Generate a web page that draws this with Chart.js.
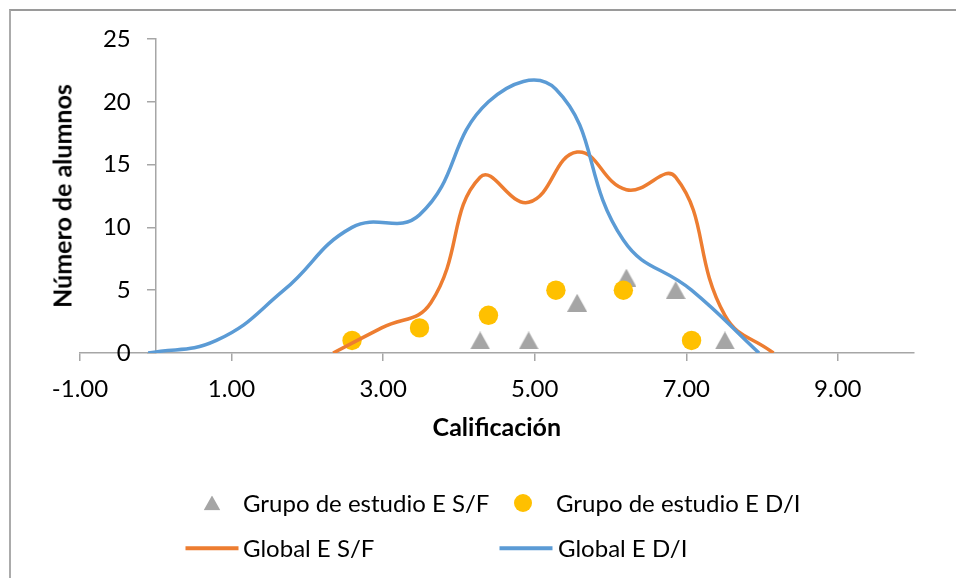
<!DOCTYPE html>
<html>
<head>
<meta charset="utf-8">
<script src="https://cdn.jsdelivr.net/npm/chart.js@4.4.1/dist/chart.umd.min.js"></script>
<style>
  html, body { margin: 0; padding: 0; background: #fff; }
  #wrap { position: relative; width: 956px; height: 578px; overflow: hidden; background: #fff;
          font-family: Lato, "Open Sans", sans-serif; color: #000; }
  #frame { position: absolute; left: 9px; top: 9px; width: 2000px; height: 2000px;
           border-left: 2px solid #ababab; border-top: 2px solid #9a9a9a; box-sizing: border-box; }
  #c { position: absolute; left: 0; top: 0; }
  #ytitle { position: absolute; left: 62px; top: 196px; transform: translate(-50%, -50%) rotate(-90deg);
            font-weight: bold; font-size: 25px; white-space: nowrap; line-height: 1; }
  .leg-text { position: absolute; font-size: 24px; white-space: nowrap; line-height: 1; transform: translateY(-50%); }
  .leg-mark { position: absolute; transform: translate(-50%, -50%); }
</style>
</head>
<body>
<div id="wrap">
  <div id="frame"></div>
  <canvas id="c" width="956" height="578"></canvas>
  <div id="ytitle">Número de alumnos</div>
  <div id="legend"></div>
</div>
<script>
// Series names
const seriesNames = ['Grupo de estudio E S/F', 'Grupo de estudio E D/I', 'Global E S/F', 'Global E D/I'];

// Study groups (scatter markers)
const grupoSFx = [4.28, 4.92, 5.56, 6.21, 6.86, 7.51];
const grupoSFy = [1, 1, 4, 6, 5, 1];
const grupoDIx = [2.59, 3.48, 4.39, 5.28, 6.17, 7.07];
const grupoDIy = [1, 2, 3, 5, 5, 1];

// Global distributions (smoothed lines)
const globalSFx = [2.34, 2.98, 3.63, 4.28, 4.92, 5.56, 6.21, 6.86, 7.51, 8.15];
const globalSFy = [0, 2, 4, 14, 12, 16, 13, 14, 3, 0];
const globalDIx = [-0.10, 0.80, 1.69, 2.59, 3.48, 4.39, 5.28, 6.17, 7.07, 7.96];
const globalDIy = [0, 1, 5, 10, 11, 20, 21, 9, 5, 0];

// Axis ticks
const xTicks = [-1, 1, 3, 5, 7, 9];
const yTicks = [0, 5, 10, 15, 20, 25];

const colors = { sfMark: '#A5A5A5', diMark: '#FFC000', sfLine: '#ED7D31', diLine: '#5B9BD5', axis: '#A6A6A6' };

const pts = (xs, ys) => xs.map((x, i) => ({ x: x, y: ys[i] }));

// Triangle marker centred on its bounding box
function triangleCanvas(w, h, color) {
  const c = document.createElement('canvas');
  c.width = w; c.height = h;
  const g = c.getContext('2d');
  g.fillStyle = color;
  g.beginPath();
  g.moveTo(w / 2, 0);
  g.lineTo(w, h);
  g.lineTo(0, h);
  g.closePath();
  g.fill();
  return c;
}
const triMark = triangleCanvas(20, 18, colors.sfMark);

const FONT = 'Lato, "Open Sans", sans-serif';
const Y_TICK_LEN = 8;
const Y_TICK_PAD = 17;

// The y axis crosses at x = 0; keep its labels clear of the tick marks
const yLabelGap = {
  id: 'yLabelGap',
  beforeDraw(chart) {
    const s = chart.scales.y;
    s.getLabelItems(chart.chartArea).forEach(item => {
      if (!item._shifted) {
        item.options.translation[0] -= (Y_TICK_LEN + Y_TICK_PAD);
        item._shifted = true;
      }
    });
  }
};

new Chart(document.getElementById('c'), {
  type: 'scatter',
  data: {
    datasets: [
      { label: seriesNames[0], data: pts(grupoSFx, grupoSFy), pointStyle: triMark, pointRadius: 10,
        backgroundColor: colors.sfMark, borderWidth: 0, order: 4 },
      { label: seriesNames[1], data: pts(grupoDIx, grupoDIy), pointStyle: 'circle', pointRadius: 9.7,
        backgroundColor: colors.diMark, borderWidth: 0, order: 3 },
      { label: seriesNames[2], data: pts(globalSFx, globalSFy), showLine: true, tension: 0.45,
        borderColor: colors.sfLine, borderWidth: 3.5, pointRadius: 0, fill: false, order: 2 },
      { label: seriesNames[3], data: pts(globalDIx, globalDIy), showLine: true, tension: 0.45,
        borderColor: colors.diLine, borderWidth: 3.5, pointRadius: 0, fill: false, order: 1 }
    ]
  },
  plugins: [yLabelGap],
  options: {
    responsive: false,
    animation: false,
    events: [],
    layout: { padding: { left: 80, right: 42.4, top: 39, bottom: 0 } },
    plugins: { legend: { display: false }, tooltip: { enabled: false } },
    scales: {
      x: {
        type: 'linear', position: 'bottom', min: -1, max: 10,
        afterBuildTicks: (s) => { s.ticks = xTicks.map(v => ({ value: v })); },
        afterFit: (s) => { s.height = 225; },
        grid: { drawOnChartArea: false, drawTicks: true, tickLength: 8, color: colors.axis, lineWidth: 1.5 },
        border: { display: true, color: colors.axis, width: 1.5 },
        ticks: { padding: 14, maxRotation: 0, autoSkip: false, color: '#000',
                 font: { family: FONT, size: 24 }, callback: (v) => Number(v).toFixed(2) },
        title: { display: true, text: 'Calificación', color: '#000',
                 font: { family: FONT, size: 25, weight: 'bold' }, padding: { top: 0, bottom: 135 } }
      },
      y: {
        type: 'linear', position: { x: 0 }, min: 0, max: 25,
        afterBuildTicks: (s) => { s.ticks = yTicks.map(v => ({ value: v })); },
        grid: { drawOnChartArea: false, drawTicks: true, tickLength: Y_TICK_LEN, color: colors.axis, lineWidth: 1.5 },
        border: { display: true, color: colors.axis, width: 1.5 },
        ticks: { padding: Y_TICK_PAD, color: '#000', font: { family: FONT, size: 24 } }
      }
    }
  }
});

// Legend laid out in two rows
const legend = document.getElementById('legend');
function addText(txt, left, cy) {
  const d = document.createElement('div');
  d.className = 'leg-text';
  d.textContent = txt;
  d.style.left = left + 'px';
  d.style.top = cy + 'px';
  legend.appendChild(d);
}
function addMark(cx, cy, w, h, css) {
  const d = document.createElement('div');
  d.className = 'leg-mark';
  d.style.left = cx + 'px';
  d.style.top = cy + 'px';
  d.style.width = w + 'px';
  d.style.height = h + 'px';
  Object.assign(d.style, css);
  legend.appendChild(d);
}
addMark(212, 503, 17, 15, { background: colors.sfMark, clipPath: 'polygon(50% 0, 100% 100%, 0 100%)' });
addText(seriesNames[0], 243, 503);
addMark(523, 503, 18, 18, { background: colors.diMark, borderRadius: '50%' });
addText(seriesNames[1], 556, 503);
addMark(211.5, 548, 53, 3.5, { background: colors.sfLine });
addText(seriesNames[2], 243, 548);
addMark(525.5, 548, 53, 3.5, { background: colors.diLine });
addText(seriesNames[3], 558, 548);
</script>
</body>
</html>
